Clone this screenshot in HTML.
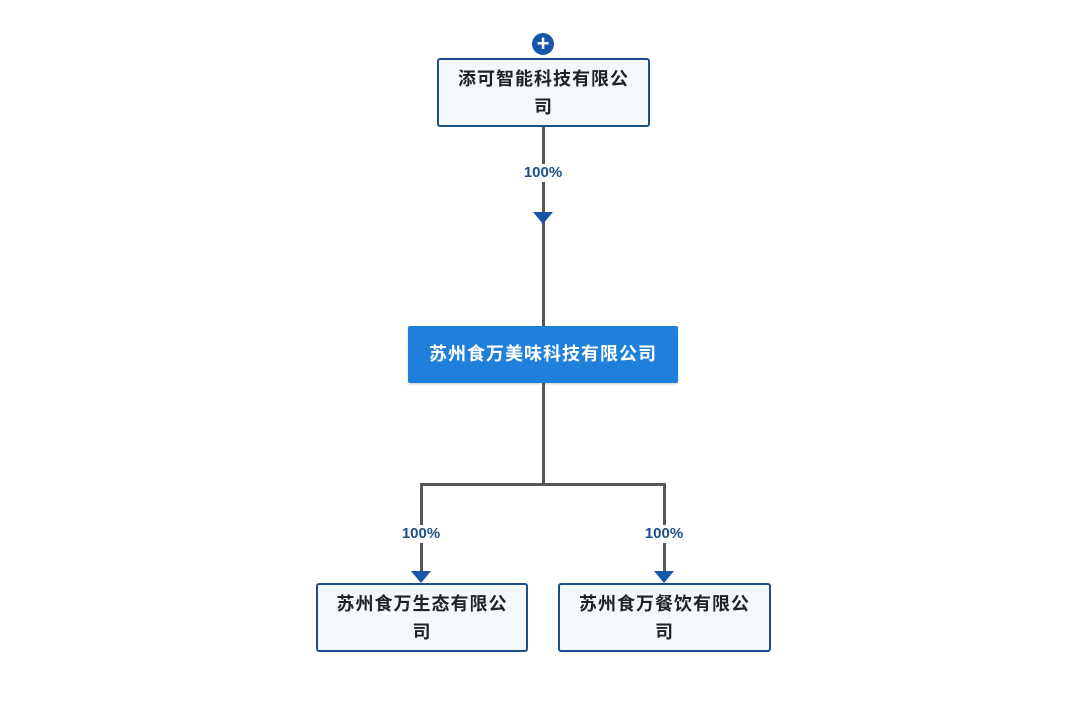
<!DOCTYPE html>
<html><head><meta charset="utf-8"><style>
body{margin:0;width:1080px;height:718px;background:#fff;position:relative;overflow:hidden;font-family:"Liberation Sans","Noto Sans CJK SC",sans-serif}
.b{position:absolute;box-sizing:border-box;border:2px solid #1d4f86;border-radius:3px;background:#f3f8fd;color:#222;font-size:18px;font-weight:bold;text-align:center;line-height:28px;padding-top:5px;letter-spacing:1px}
.l{position:absolute;background:#5a5558}
.p{position:absolute;color:#1d4f86;font-size:15px;font-weight:bold;background:#fff;line-height:18px;text-align:center;width:50px}
.t{position:absolute;width:0;height:0;border-left:10px solid transparent;border-right:10px solid transparent;border-top:12px solid #1556a8}
</style></head><body>
<div class="l" style="left:542px;top:126px;width:3px;height:201px"></div>
<div class="p" style="left:518px;top:164px">100%</div>
<div class="t" style="left:533px;top:212px"></div>
<div style="position:absolute;left:532px;top:33px;width:22px;height:22px;border-radius:50%;background:#1556a8;color:#fff;font-size:22px;line-height:21px;text-align:center;font-weight:bold">+</div>
<div class="b" style="left:437px;top:58px;width:213px;height:69px">添可智能科技有限公<br>司</div>
<div style="position:absolute;left:408px;top:326px;width:270px;height:57px;background:#1f80dc;border-radius:2px;color:#fff;font-size:18px;font-weight:bold;text-align:center;line-height:57px;letter-spacing:1px;box-shadow:0 1px 2px rgba(0,0,0,.2)">苏州食万美味科技有限公司</div>
<div class="l" style="left:542px;top:383px;width:3px;height:103px"></div>
<div class="l" style="left:420px;top:483px;width:246px;height:3px"></div>
<div class="l" style="left:420px;top:483px;width:3px;height:90px"></div>
<div class="l" style="left:663px;top:483px;width:3px;height:90px"></div>
<div class="p" style="left:396px;top:525px">100%</div>
<div class="p" style="left:639px;top:525px">100%</div>
<div class="t" style="left:411px;top:571px"></div>
<div class="t" style="left:654px;top:571px"></div>
<div class="b" style="left:316px;top:583px;width:212px;height:69px">苏州食万生态有限公<br>司</div>
<div class="b" style="left:558px;top:583px;width:213px;height:69px">苏州食万餐饮有限公<br>司</div>
</body></html>
